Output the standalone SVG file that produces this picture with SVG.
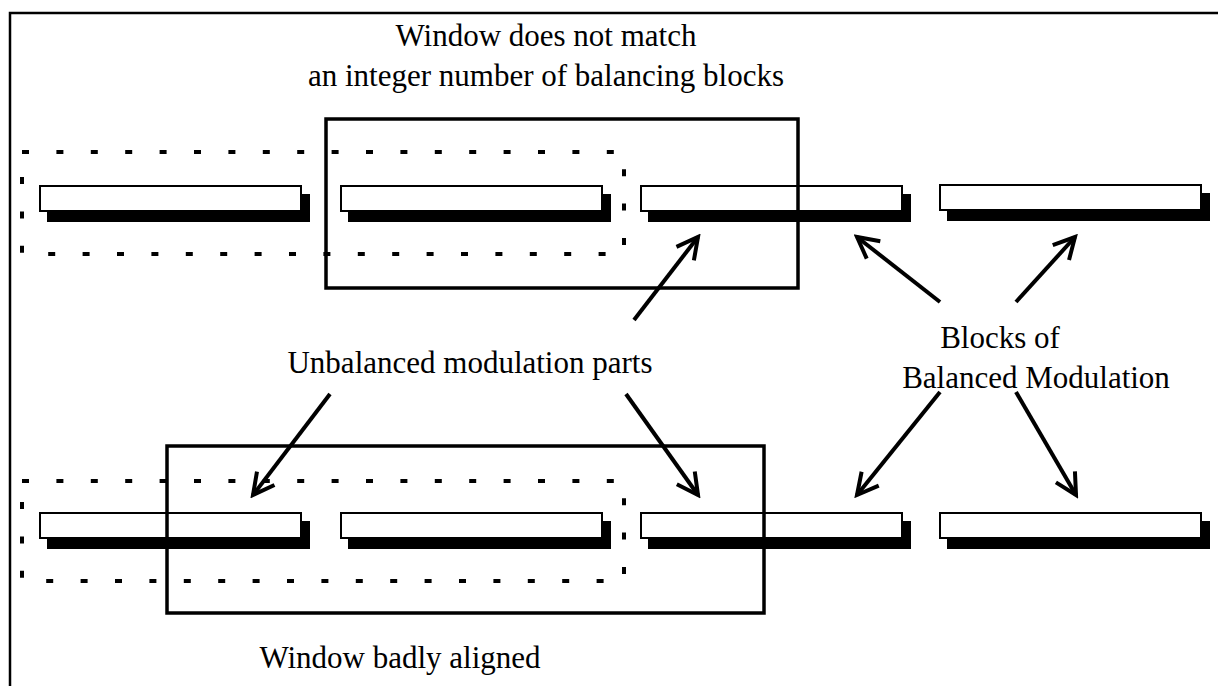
<svg xmlns="http://www.w3.org/2000/svg" width="1218" height="686" viewBox="0 0 1218 686">
  <style>
    .label { font-family: "Liberation Serif", "Times New Roman", serif; font-size: 31px; fill: #000; text-anchor: middle; }
    .bar { fill: #fff; stroke: #000; stroke-width: 2; }
    .shadow { fill: #000; }
    .group-box { fill: none; stroke: #000; stroke-width: 4; stroke-dasharray: 7 27.4; }
    .window { fill: none; stroke: #000; stroke-width: 3.5; }
    .arrow { fill: none; stroke: #000; stroke-width: 4; marker-end: url(#head); }
  </style>
  <defs>
    <marker id="head" viewBox="-26 -14 30 28" markerWidth="30" markerHeight="28" refX="0" refY="0" orient="auto" markerUnits="userSpaceOnUse">
      <path d="M-21,-11 L0,0 L-21,11" fill="none" stroke="#000" stroke-width="4" stroke-linejoin="miter"/>
    </marker>
    <g id="block">
      <rect class="shadow" x="7" y="8" width="263" height="28"/>
      <rect class="bar" x="0" y="0" width="261" height="25"/>
    </g>
  </defs>

  <rect width="1218" height="686" fill="#fff"/>
  <!-- outer frame (only top and left edges fall inside the sheet) -->
  <path d="M10,686 V13 H1218" fill="none" stroke="#000" stroke-width="2.5"/>

  <!-- upper row -->
  <g id="top-row-group"><rect class="group-box" x="22" y="152" width="602" height="102"/></g>
  <g id="top-block-1"><use href="#block" x="40" y="186"/></g>
  <g id="top-block-2"><use href="#block" x="341" y="186"/></g>
  <g id="top-block-3"><use href="#block" x="641" y="186"/></g>
  <g id="top-block-4"><use href="#block" x="940" y="185"/></g>
  <g id="top-window"><rect class="window" x="326" y="119" width="472" height="169"/></g>

  <!-- lower row -->
  <g id="bottom-row-group"><rect class="group-box" x="22" y="481" width="602" height="100"/></g>
  <g id="bottom-block-1"><use href="#block" x="40" y="513"/></g>
  <g id="bottom-block-2"><use href="#block" x="341" y="513"/></g>
  <g id="bottom-block-3"><use href="#block" x="641" y="513"/></g>
  <g id="bottom-block-4"><use href="#block" x="940" y="513"/></g>
  <g id="bottom-window"><rect class="window" x="167" y="446" width="597" height="167"/></g>

  <!-- labels -->
  <g id="title">
    <text class="label" x="546" y="46">Window does not match</text>
    <text class="label" x="546" y="86">an integer number of balancing blocks</text>
  </g>
  <g id="unbalanced-label"><text class="label" x="470" y="373">Unbalanced modulation parts</text></g>
  <g id="balanced-label">
    <text class="label" x="1000" y="348">Blocks of</text>
    <text class="label" x="1036" y="388">Balanced Modulation</text>
  </g>
  <g id="bottom-caption"><text class="label" x="400" y="668">Window badly aligned</text></g>

  <!-- connectors -->
  <g id="connectors">
    <line class="arrow" x1="634" y1="320" x2="698" y2="237"/>
    <line class="arrow" x1="940" y1="302" x2="857" y2="237"/>
    <line class="arrow" x1="1016" y1="302" x2="1075" y2="237"/>
    <line class="arrow" x1="330" y1="394" x2="253" y2="495"/>
    <line class="arrow" x1="626" y1="394" x2="698" y2="495"/>
    <line class="arrow" x1="940" y1="392" x2="857" y2="495"/>
    <line class="arrow" x1="1016" y1="392" x2="1076" y2="495"/>
  </g>
</svg>
